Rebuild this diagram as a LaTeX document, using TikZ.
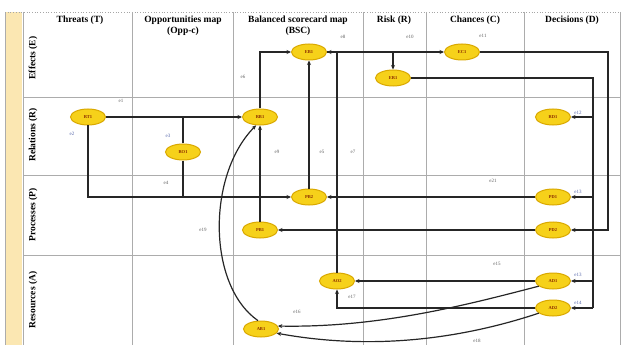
\documentclass[tikz,border=0pt]{standalone}
\usepackage{fontspec}
\setmainfont{Liberation Serif}
\usetikzlibrary{arrows.meta,shapes.geometric}
\definecolor{strip}{HTML}{FBE7B2}
\definecolor{ndfill}{HTML}{F6D11A}
\definecolor{nddraw}{HTML}{D9A800}
\definecolor{ndtext}{HTML}{8A2A00}
\definecolor{lblblue}{HTML}{5566AA}
\begin{document}
\begin{tikzpicture}[x=1pt,y=-1pt,
  grid/.style={draw=gray!65, line width=0.7pt},
  nd/.style={ellipse, fill=ndfill, draw=nddraw, line width=1pt, minimum width=35pt, minimum height=16pt, inner sep=0pt, font=\fontsize{4.5}{5}\selectfont\bfseries, text=ndtext},
  ln/.style={line width=1.2pt, draw=black!85},
  arr/.style={ln, -{Stealth[length=4.5pt,width=4pt]}},
  lbl/.style={font=\fontsize{5}{6}\selectfont, text=gray!75!black, inner sep=0pt},
  blbl/.style={lbl, text=lblblue},
  hdr/.style={font=\fontsize{9.5}{11}\selectfont\bfseries, align=center, inner sep=0pt},
  rowlbl/.style={font=\fontsize{9.5}{11}\selectfont\bfseries, rotate=90, inner sep=0pt},
]
\useasboundingbox (0,0) rectangle (622,345);
% strip and grid
\fill[strip] (5,12) rectangle (22,345);
\draw[grid] (5,12) -- (5,345);
\draw[gray!70, line width=0.7pt, dotted] (5,12) -- (620,12);
\foreach \xx in {23,132,233,363,426,524,620} {\draw[grid] (\xx,12) -- (\xx,345);}
\foreach \yy in {97,175,255} {\draw[grid] (23,\yy) -- (620,\yy);}
% headers
\node[hdr] (hT) at (80,20) {Threats (T)};
\node[hdr] (hO) at (183,26) {Opportunities map\\(Opp-c)};
\node[hdr] (hB) at (298,26) {Balanced scorecard map\\(BSC)};
\node[hdr] (hR) at (394,20) {Risk (R)};
\node[hdr] (hC) at (475,20) {Chances (C)};
\node[hdr] (hD) at (572,20) {Decisions (D)};
% row labels
\node[rowlbl] (rE) at (33,58) {Effects (E)};
\node[rowlbl] (rR) at (33,135) {Relations (R)};
\node[rowlbl] (rP) at (33,215) {Processes (P)};
\node[rowlbl] (rA) at (33,300) {Resources (A)};
% nodes
\node[nd] (EB1) at (309,52) {EB1};
\node[nd] (ER1) at (393,78) {ER1};
\node[nd] (EC1) at (462,52) {EC1};
\node[nd] (RT1) at (88,117) {RT1};
\node[nd] (RO1) at (183,152) {RO1};
\node[nd] (RB1) at (260,117) {RB1};
\node[nd] (RD1) at (553,117) {RD1};
\node[nd] (PB2) at (309,197) {PB2};
\node[nd] (PD1) at (553,197) {PD1};
\node[nd] (PB1) at (260,230) {PB1};
\node[nd] (PD2) at (553,230) {PD2};
\node[nd] (AO2) at (337,281) {AO2};
\node[nd] (AD1) at (553,281) {AD1};
\node[nd] (AD2) at (553,308) {AD2};
\node[nd] (AB1) at (261,329) {AB1};
% connectors
\draw[arr] (RT1) -- (RB1);
\draw[arr] (RT1.south) |- (PB2.west);
\draw[ln] (RO1.north) -- (RO1 |- RB1);
\draw[ln] (RO1.south) -- (RO1 |- PB2);
\draw[arr] (RB1.north) |- (EB1.west);
\draw[arr] (PB2.north) -- (EB1.south);
\draw[arr] (PB1.north) -- (RB1.south);
\draw[arr] (AO2.north) |- (EB1.east);
\draw[arr] (EB1.east) -- (EC1.west);
\draw[arr] (ER1 |- EB1.east) -- (ER1.north);
\coordinate (ecx) at (608,52);
\draw[arr] (EC1.east) -- (ecx) |- (PD2.east);
\coordinate (erx) at (593,78);
\draw[ln] (ER1.east) -- (erx) -- (erx |- AD2);
\draw[arr] (erx |- RD1) -- (RD1.east);
\draw[arr] (erx |- PD1) -- (PD1.east);
\draw[arr] (erx |- AD1) -- (AD1.east);
\draw[arr] (erx |- AD2) -- (AD2.east);
\draw[arr] (PD1.west) -- (PB2.east);
\draw[arr] (PD2.west) -- (PB1.east);
\draw[arr] (AD1.west) -- (AO2.east);
\draw[arr] (AD2.west) -| (AO2.south);
\draw[arr] (AD1.200) .. controls (470,304) and (380,328) .. (AB1.10);
\draw[arr] (AD2.200) .. controls (470,336) and (380,352) .. (AB1.-15);
\draw[arr] (AB1.110) .. controls (207,285) and (207,175) .. (RB1.245);
% labels
\node[lbl] (l1) at (121,101) {e1};
\node[blbl] (l2) at (72,134) {e2};
\node[blbl] (l3) at (168,136) {e3};
\node[lbl] (l4) at (166,183) {e4};
\node[lbl] (l6) at (243,77) {e6};
\node[lbl] (l9) at (277,152) {e9};
\node[lbl] (l5) at (322,152) {e5};
\node[lbl] (l7) at (353,152) {e7};
\node[lbl] (l8) at (343,37) {e8};
\node[lbl] (l10) at (410,37) {e10};
\node[lbl] (l11) at (483,36) {e11};
\node[blbl] (l12) at (578,113) {e12};
\node[blbl] (l13) at (578,192) {e13};
\node[lbl] (l21) at (493,181) {e21};
\node[lbl] (l19) at (203,230) {e19};
\node[lbl] (l15) at (497,264) {e15};
\node[blbl] (l14) at (578,275) {e13};
\node[blbl] (l20) at (578,303) {e14};
\node[lbl] (l17) at (352,297) {e17};
\node[lbl] (l16) at (297,312) {e16};
\node[lbl] (l18) at (477,341) {e18};
\end{tikzpicture}
\end{document}
